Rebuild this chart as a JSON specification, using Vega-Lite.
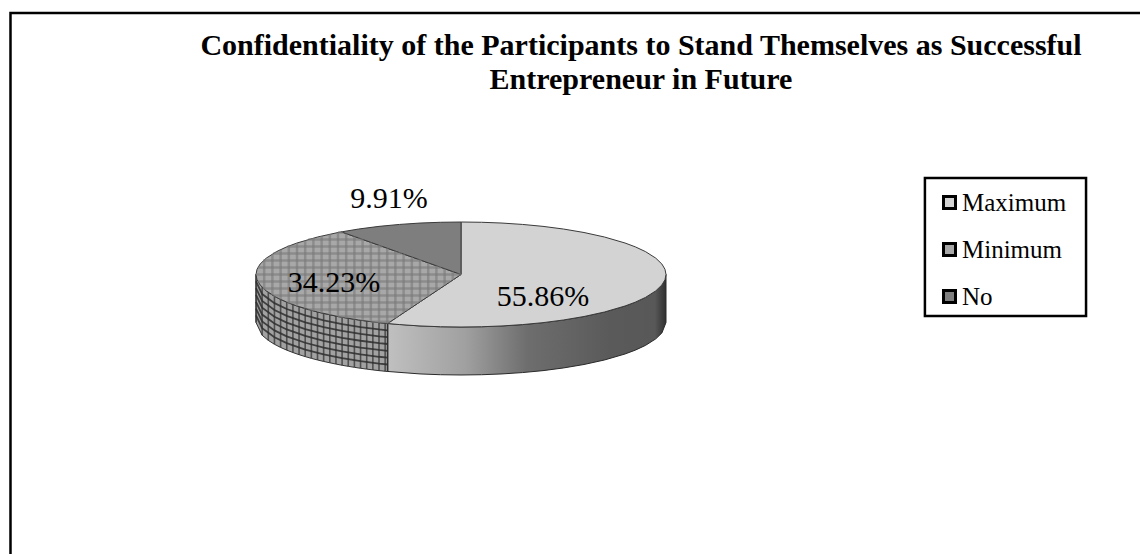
{
"$schema":"https://vega.github.io/schema/vega-lite/v6.json",
"width":1140,"height":554,"padding":0,"autosize":{"type":"none"},
"background":"white",
"view":{"stroke":null},
"title":{"text":["Confidentiality of the Participants to Stand Themselves as Successful","Entrepreneur in Future"],"anchor":"middle","frame":"group","font":"Liberation Serif","fontSize":30,"fontWeight":"bold","color":"#000000","lineHeight":34,"baseline":"top","dx":71,"dy":99},
"datasets":{
"slices":[
{"slice":"Maximum","share":0.5586,"lx":0.4,"ly":-0.43},
{"slice":"Minimum","share":0.3423,"lx":-0.62,"ly":-0.16},
{"slice":"No","share":0.0991,"lx":-0.351,"ly":1.44}],
"top":[
{"slice":"Maximum","x":-0.358,"y":-0.933,"y2":-0.933},
{"slice":"Maximum","x":-0.3,"y":-0.782,"y2":-0.954},
{"slice":"Maximum","x":-0.2,"y":-0.521,"y2":-0.98},
{"slice":"Maximum","x":-0.1,"y":-0.261,"y2":-0.995},
{"slice":"Maximum","x":0,"y":0,"y2":-1},
{"slice":"Maximum","x":0.0005,"y":1,"y2":-1},
{"slice":"Maximum","x":0.1,"y":0.995,"y2":-0.995},
{"slice":"Maximum","x":0.2,"y":0.98,"y2":-0.98},
{"slice":"Maximum","x":0.3,"y":0.954,"y2":-0.954},
{"slice":"Maximum","x":0.4,"y":0.917,"y2":-0.917},
{"slice":"Maximum","x":0.5,"y":0.866,"y2":-0.866},
{"slice":"Maximum","x":0.6,"y":0.8,"y2":-0.8},
{"slice":"Maximum","x":0.7,"y":0.714,"y2":-0.714},
{"slice":"Maximum","x":0.8,"y":0.6,"y2":-0.6},
{"slice":"Maximum","x":0.85,"y":0.527,"y2":-0.527},
{"slice":"Maximum","x":0.9,"y":0.436,"y2":-0.436},
{"slice":"Maximum","x":0.95,"y":0.312,"y2":-0.312},
{"slice":"Maximum","x":0.98,"y":0.199,"y2":-0.199},
{"slice":"Maximum","x":0.995,"y":0.0999,"y2":-0.0999},
{"slice":"Maximum","x":1,"y":0,"y2":0},
{"slice":"Minimum","x":-1,"y":0,"y2":0},
{"slice":"Minimum","x":-0.995,"y":0.0999,"y2":-0.0999},
{"slice":"Minimum","x":-0.98,"y":0.199,"y2":-0.199},
{"slice":"Minimum","x":-0.95,"y":0.312,"y2":-0.312},
{"slice":"Minimum","x":-0.9,"y":0.436,"y2":-0.436},
{"slice":"Minimum","x":-0.85,"y":0.527,"y2":-0.527},
{"slice":"Minimum","x":-0.8,"y":0.6,"y2":-0.6},
{"slice":"Minimum","x":-0.7,"y":0.714,"y2":-0.714},
{"slice":"Minimum","x":-0.6,"y":0.8,"y2":-0.8},
{"slice":"Minimum","x":-0.5835,"y":0.812,"y2":-0.812},
{"slice":"Minimum","x":-0.5,"y":0.696,"y2":-0.866},
{"slice":"Minimum","x":-0.4,"y":0.557,"y2":-0.917},
{"slice":"Minimum","x":-0.358,"y":0.498,"y2":-0.933},
{"slice":"Minimum","x":-0.3,"y":0.417,"y2":-0.782},
{"slice":"Minimum","x":-0.2,"y":0.278,"y2":-0.521},
{"slice":"Minimum","x":-0.1,"y":0.139,"y2":-0.261},
{"slice":"Minimum","x":0,"y":0,"y2":0},
{"slice":"No","x":-0.5835,"y":0.812,"y2":0.812},
{"slice":"No","x":-0.5,"y":0.866,"y2":0.696},
{"slice":"No","x":-0.4,"y":0.917,"y2":0.557},
{"slice":"No","x":-0.3,"y":0.954,"y2":0.417},
{"slice":"No","x":-0.2,"y":0.98,"y2":0.278},
{"slice":"No","x":-0.1,"y":0.995,"y2":0.139},
{"slice":"No","x":0,"y":1,"y2":0}],
"wallMaximum":[
{"x":-0.358,"y":-0.933,"y2":-1.847},
{"x":-0.2,"y":-0.98,"y2":-1.894},
{"x":-0.1,"y":-0.995,"y2":-1.909},
{"x":0,"y":-1,"y2":-1.914},
{"x":0.1,"y":-0.995,"y2":-1.909},
{"x":0.2,"y":-0.98,"y2":-1.894},
{"x":0.3,"y":-0.954,"y2":-1.868},
{"x":0.4,"y":-0.917,"y2":-1.831},
{"x":0.5,"y":-0.866,"y2":-1.78},
{"x":0.6,"y":-0.8,"y2":-1.714},
{"x":0.7,"y":-0.714,"y2":-1.628},
{"x":0.8,"y":-0.6,"y2":-1.514},
{"x":0.85,"y":-0.527,"y2":-1.441},
{"x":0.9,"y":-0.436,"y2":-1.35},
{"x":0.95,"y":-0.312,"y2":-1.226},
{"x":0.98,"y":-0.199,"y2":-1.113},
{"x":1,"y":0,"y2":-0.914}],
"wallMinimum":[
{"x":-1,"y":0,"y2":-0.914},
{"x":-0.97,"y":-0.243,"y2":-1.157},
{"x":-0.94,"y":-0.341,"y2":-1.255},
{"x":-0.91,"y":-0.415,"y2":-1.329},
{"x":-0.88,"y":-0.475,"y2":-1.389},
{"x":-0.85,"y":-0.527,"y2":-1.441},
{"x":-0.82,"y":-0.572,"y2":-1.486},
{"x":-0.79,"y":-0.613,"y2":-1.527},
{"x":-0.76,"y":-0.65,"y2":-1.564},
{"x":-0.73,"y":-0.683,"y2":-1.597},
{"x":-0.7,"y":-0.714,"y2":-1.628},
{"x":-0.67,"y":-0.742,"y2":-1.656},
{"x":-0.64,"y":-0.768,"y2":-1.682},
{"x":-0.61,"y":-0.792,"y2":-1.706},
{"x":-0.58,"y":-0.815,"y2":-1.729},
{"x":-0.55,"y":-0.835,"y2":-1.749},
{"x":-0.52,"y":-0.854,"y2":-1.768},
{"x":-0.49,"y":-0.872,"y2":-1.786},
{"x":-0.46,"y":-0.888,"y2":-1.802},
{"x":-0.43,"y":-0.903,"y2":-1.817},
{"x":-0.4,"y":-0.917,"y2":-1.831},
{"x":-0.37,"y":-0.929,"y2":-1.843},
{"x":-0.358,"y":-0.934,"y2":-1.848}],
"wallBands":[
{"b":1,"i":1,"x":-1,"y":-0.13},{"b":1,"i":2,"x":-0.97,"y":-0.373},{"b":1,"i":3,"x":-0.91,"y":-0.545},{"b":1,"i":4,"x":-0.85,"y":-0.657},{"b":1,"i":5,"x":-0.76,"y":-0.78},{"b":1,"i":6,"x":-0.67,"y":-0.872},{"b":1,"i":7,"x":-0.58,"y":-0.945},{"b":1,"i":8,"x":-0.49,"y":-1.002},{"b":1,"i":9,"x":-0.4,"y":-1.047},{"b":1,"i":10,"x":-0.358,"y":-1.064},
{"b":2,"i":1,"x":-1,"y":-0.26},{"b":2,"i":2,"x":-0.97,"y":-0.503},{"b":2,"i":3,"x":-0.91,"y":-0.675},{"b":2,"i":4,"x":-0.85,"y":-0.787},{"b":2,"i":5,"x":-0.76,"y":-0.91},{"b":2,"i":6,"x":-0.67,"y":-1.002},{"b":2,"i":7,"x":-0.58,"y":-1.075},{"b":2,"i":8,"x":-0.49,"y":-1.132},{"b":2,"i":9,"x":-0.4,"y":-1.177},{"b":2,"i":10,"x":-0.358,"y":-1.194},
{"b":3,"i":1,"x":-1,"y":-0.39},{"b":3,"i":2,"x":-0.97,"y":-0.633},{"b":3,"i":3,"x":-0.91,"y":-0.805},{"b":3,"i":4,"x":-0.85,"y":-0.917},{"b":3,"i":5,"x":-0.76,"y":-1.04},{"b":3,"i":6,"x":-0.67,"y":-1.132},{"b":3,"i":7,"x":-0.58,"y":-1.205},{"b":3,"i":8,"x":-0.49,"y":-1.262},{"b":3,"i":9,"x":-0.4,"y":-1.307},{"b":3,"i":10,"x":-0.358,"y":-1.324},
{"b":4,"i":1,"x":-1,"y":-0.52},{"b":4,"i":2,"x":-0.97,"y":-0.763},{"b":4,"i":3,"x":-0.91,"y":-0.935},{"b":4,"i":4,"x":-0.85,"y":-1.047},{"b":4,"i":5,"x":-0.76,"y":-1.17},{"b":4,"i":6,"x":-0.67,"y":-1.262},{"b":4,"i":7,"x":-0.58,"y":-1.335},{"b":4,"i":8,"x":-0.49,"y":-1.392},{"b":4,"i":9,"x":-0.4,"y":-1.437},{"b":4,"i":10,"x":-0.358,"y":-1.454},
{"b":5,"i":1,"x":-1,"y":-0.65},{"b":5,"i":2,"x":-0.97,"y":-0.893},{"b":5,"i":3,"x":-0.91,"y":-1.065},{"b":5,"i":4,"x":-0.85,"y":-1.177},{"b":5,"i":5,"x":-0.76,"y":-1.3},{"b":5,"i":6,"x":-0.67,"y":-1.392},{"b":5,"i":7,"x":-0.58,"y":-1.465},{"b":5,"i":8,"x":-0.49,"y":-1.522},{"b":5,"i":9,"x":-0.4,"y":-1.567},{"b":5,"i":10,"x":-0.358,"y":-1.584},
{"b":6,"i":1,"x":-1,"y":-0.78},{"b":6,"i":2,"x":-0.97,"y":-1.023},{"b":6,"i":3,"x":-0.91,"y":-1.195},{"b":6,"i":4,"x":-0.85,"y":-1.307},{"b":6,"i":5,"x":-0.76,"y":-1.43},{"b":6,"i":6,"x":-0.67,"y":-1.522},{"b":6,"i":7,"x":-0.58,"y":-1.595},{"b":6,"i":8,"x":-0.49,"y":-1.652},{"b":6,"i":9,"x":-0.4,"y":-1.697},{"b":6,"i":10,"x":-0.358,"y":-1.714}],
"meshColumns":[
{"x":-0.96,"y":0.28,"y2":-0.28},{"x":-0.92,"y":0.392,"y2":-0.392},{"x":-0.88,"y":0.475,"y2":-0.475},{"x":-0.84,"y":0.543,"y2":-0.543},{"x":-0.8,"y":0.6,"y2":-0.6},{"x":-0.76,"y":0.65,"y2":-0.65},{"x":-0.72,"y":0.694,"y2":-0.694},{"x":-0.68,"y":0.733,"y2":-0.733},{"x":-0.64,"y":0.768,"y2":-0.768},{"x":-0.6,"y":0.8,"y2":-0.8},{"x":-0.56,"y":0.779,"y2":-0.828},{"x":-0.52,"y":0.724,"y2":-0.854},{"x":-0.48,"y":0.668,"y2":-0.877},{"x":-0.44,"y":0.612,"y2":-0.898},{"x":-0.4,"y":0.557,"y2":-0.917},{"x":-0.36,"y":0.501,"y2":-0.933},{"x":-0.32,"y":0.445,"y2":-0.834},{"x":-0.28,"y":0.39,"y2":-0.73},{"x":-0.24,"y":0.334,"y2":-0.625},{"x":-0.2,"y":0.278,"y2":-0.521},{"x":-0.16,"y":0.223,"y2":-0.417},{"x":-0.12,"y":0.167,"y2":-0.313},{"x":-0.08,"y":0.111,"y2":-0.208},{"x":-0.04,"y":0.056,"y2":-0.104}],
"meshRows":[
{"y":0.8,"x":-0.6,"x2":-0.575},{"y":0.667,"x":-0.745,"x2":-0.479},{"y":0.533,"x":-0.846,"x2":-0.383},{"y":0.4,"x":-0.917,"x2":-0.287},{"y":0.267,"x":-0.964,"x2":-0.192},{"y":0.133,"x":-0.991,"x2":-0.096},{"y":0,"x":-1,"x2":0},{"y":-0.133,"x":-0.991,"x2":-0.051},{"y":-0.267,"x":-0.964,"x2":-0.102},{"y":-0.4,"x":-0.917,"x2":-0.153},{"y":-0.533,"x":-0.846,"x2":-0.205},{"y":-0.667,"x":-0.745,"x2":-0.256},{"y":-0.8,"x":-0.6,"x2":-0.307},{"y":-0.9,"x":-0.436,"x2":-0.345}],
"boxes":[
{"box":"frame","x":-2.1976,"x2":3.7,"y":4.981,"y2":-5.8},
{"box":"key","x":2.263,"x2":3.049,"y":1.838,"y2":-0.79}]
},
"data":{"name":"slices"},
"encoding":{
"x":{"field":"x","type":"quantitative","scale":{"domain":[-2.2488,3.3122],"nice":false,"zero":false},"axis":null},
"y":{"field":"y","type":"quantitative","scale":{"domain":[-5.324,5.229],"nice":false,"zero":false},"axis":null}
},
"layer":[
{"data":{"name":"boxes"},"transform":[{"filter":"datum.box==='frame'"}],
 "mark":{"type":"rect","fill":null,"stroke":"#000000","strokeWidth":2.5,"clip":true},
 "encoding":{"x2":{"field":"x2"},"y2":{"field":"y2"}}},
{"data":{"name":"boxes"},"transform":[{"filter":"datum.box==='key'"}],
 "mark":{"type":"rect","fill":"#ffffff","stroke":"#000000","strokeWidth":2.5},
 "encoding":{"x2":{"field":"x2"},"y2":{"field":"y2"}}},
{"data":{"name":"wallMaximum"},
 "mark":{"type":"area","orient":"vertical","stroke":"#2a2a2a","strokeWidth":1,"fill":{"gradient":"linear","x1":0,"y1":0,"x2":1,"y2":0,"stops":[{"offset":0,"color":"#c0c0c0"},{"offset":0.28,"color":"#a0a0a0"},{"offset":0.5,"color":"#6e6e6e"},{"offset":0.8,"color":"#5a5a5a"},{"offset":0.96,"color":"#585858"},{"offset":1,"color":"#303030"}]}},
 "encoding":{"y2":{"field":"y2"}}},
{"data":{"name":"wallMinimum"},
 "mark":{"type":"area","orient":"vertical","fill":"#a2a2a2","stroke":"#333333","strokeWidth":1},
 "encoding":{"y2":{"field":"y2"}}},
{"data":{"name":"wallMinimum"},
 "mark":{"type":"rule","stroke":"#2e2e2e","strokeWidth":1.6,"opacity":0.7},
 "encoding":{"y2":{"field":"y2"}}},
{"data":{"name":"wallBands"},
 "mark":{"type":"line","stroke":"#2e2e2e","strokeWidth":1.8,"opacity":0.85},
 "encoding":{"detail":{"field":"b"},"order":{"field":"i"}}},
{"data":{"name":"top"},
 "mark":{"type":"area","orient":"vertical","stroke":"#3a3a3a","strokeWidth":1},
 "encoding":{"y2":{"field":"y2"},
  "fill":{"field":"slice","type":"nominal","scale":{"domain":["Maximum","Minimum","No"],"range":["#d3d3d3","#a8a8a8","#7e7e7e"]},
   "legend":{"orient":"none","legendX":937,"legendY":190,"title":null,"padding":0,"labelFont":"Liberation Serif","labelFontSize":25,"labelColor":"#000000","labelOffset":0,"symbolType":"square","symbolSize":144,"symbolStrokeColor":"#000000","symbolStrokeWidth":3,"rowPadding":21,"labelLimit":200}}}},
{"data":{"name":"meshColumns"},
 "mark":{"type":"rule","stroke":"#7a7a7a","strokeWidth":2.5,"opacity":0.6},
 "encoding":{"y2":{"field":"y2"}}},
{"data":{"name":"meshRows"},
 "mark":{"type":"rule","stroke":"#7a7a7a","strokeWidth":2.5,"opacity":0.6},
 "encoding":{"x2":{"field":"x2"}}},
{"mark":{"type":"text","font":"Liberation Serif","fontSize":30,"color":"#000000"},
 "encoding":{"x":{"field":"lx","type":"quantitative"},"y":{"field":"ly","type":"quantitative"},"text":{"field":"share","type":"quantitative","format":".2%"}}}
]
}
